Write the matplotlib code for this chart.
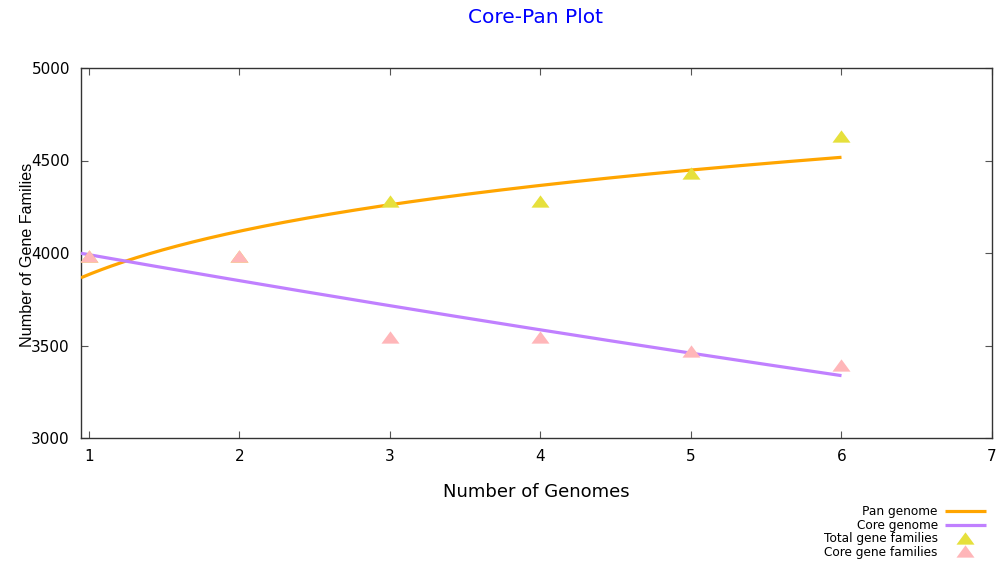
import numpy as np
import matplotlib
matplotlib.use("Agg")
import matplotlib.pyplot as plt

# ---- data ----
genomes = [1, 2, 3, 4, 5, 6]
total_gene_families = [3985, 3985, 4283, 4283, 4431, 4634]
core_gene_families = [3985, 3985, 3548, 3548, 3472, 3395]

# fitted curve parameters (as displayed)
pan_fit_a, pan_fit_b = 3884.0, 0.0843        # pan = a * x^b
core_fit_a, core_fit_b = 4136.0, -0.03577    # core = a * exp(b*x)

x_ticks = [1, 2, 3, 4, 5, 6, 7]
y_ticks = [3000, 3500, 4000, 4500, 5000]
x_min, x_max = 0.947, 7
y_min, y_max = 3000, 5000

W, H = 1005, 562
fig = plt.figure(figsize=(W / 100, H / 100), dpi=100)
ax = fig.add_axes([81 / W, 1 - 438 / H, (992 - 81) / W, (438 - 68) / H])

xs = np.linspace(x_min, max(genomes), 300)
pan_curve = pan_fit_a * xs ** pan_fit_b
core_curve = core_fit_a * np.exp(core_fit_b * xs)

tri = [(-1, -0.68), (1, -0.68), (0, 0.68)]

l1, = ax.plot(xs, pan_curve, color="#ffa500", lw=2.3, solid_capstyle="butt", zorder=3)
l2, = ax.plot(xs, core_curve, color="#c080ff", lw=2.3, solid_capstyle="butt", zorder=3)
m1, = ax.plot(genomes, total_gene_families, linestyle="none", marker=tri, ms=13,
              color="#e6e03c", markeredgewidth=0, zorder=4)
m2, = ax.plot(genomes, core_gene_families, linestyle="none", marker=tri, ms=13,
              color="#ffb6b9", markeredgewidth=0, zorder=5)

ax.set_xlim(x_min, x_max)
ax.set_ylim(y_min, y_max)
ax.set_xticks(x_ticks)
ax.set_yticks(y_ticks)
ax.tick_params(direction="in", length=5, width=0.8, color="#555555",
               top=True, right=True, labelsize=11)
ax.tick_params(axis="x", pad=8)
ax.tick_params(axis="y", pad=8)
for s in ax.spines.values():
    s.set_linewidth(1.0)
    s.set_color("#333333")

fig.text(536 / W, 1 - 17.5 / H, "Core-Pan Plot", color="#0000ff", fontsize=14.5,
         ha="center", va="center")
fig.text(536 / W, 1 - 492 / H, "Number of Genomes", fontsize=13,
         ha="center", va="center")
fig.text(27 / W, 1 - 255 / H, "Number of Gene Families", fontsize=11.6, rotation=90,
         ha="center", va="center", family=["Liberation Sans", "DejaVu Sans"])

leg = fig.legend([l1, l2, m1, m2],
                 ["Pan genome", "Core genome", "Total gene families", "Core gene families"],
                 loc="upper right", bbox_to_anchor=(986 / W, 1 - 505.5 / H),
                 frameon=False, markerfirst=False, fontsize=8.7,
                 handlelength=3.4, handletextpad=0.6, labelspacing=0.03,
                 borderpad=0, borderaxespad=0, numpoints=1)

fig.savefig("out.png", dpi=100)
